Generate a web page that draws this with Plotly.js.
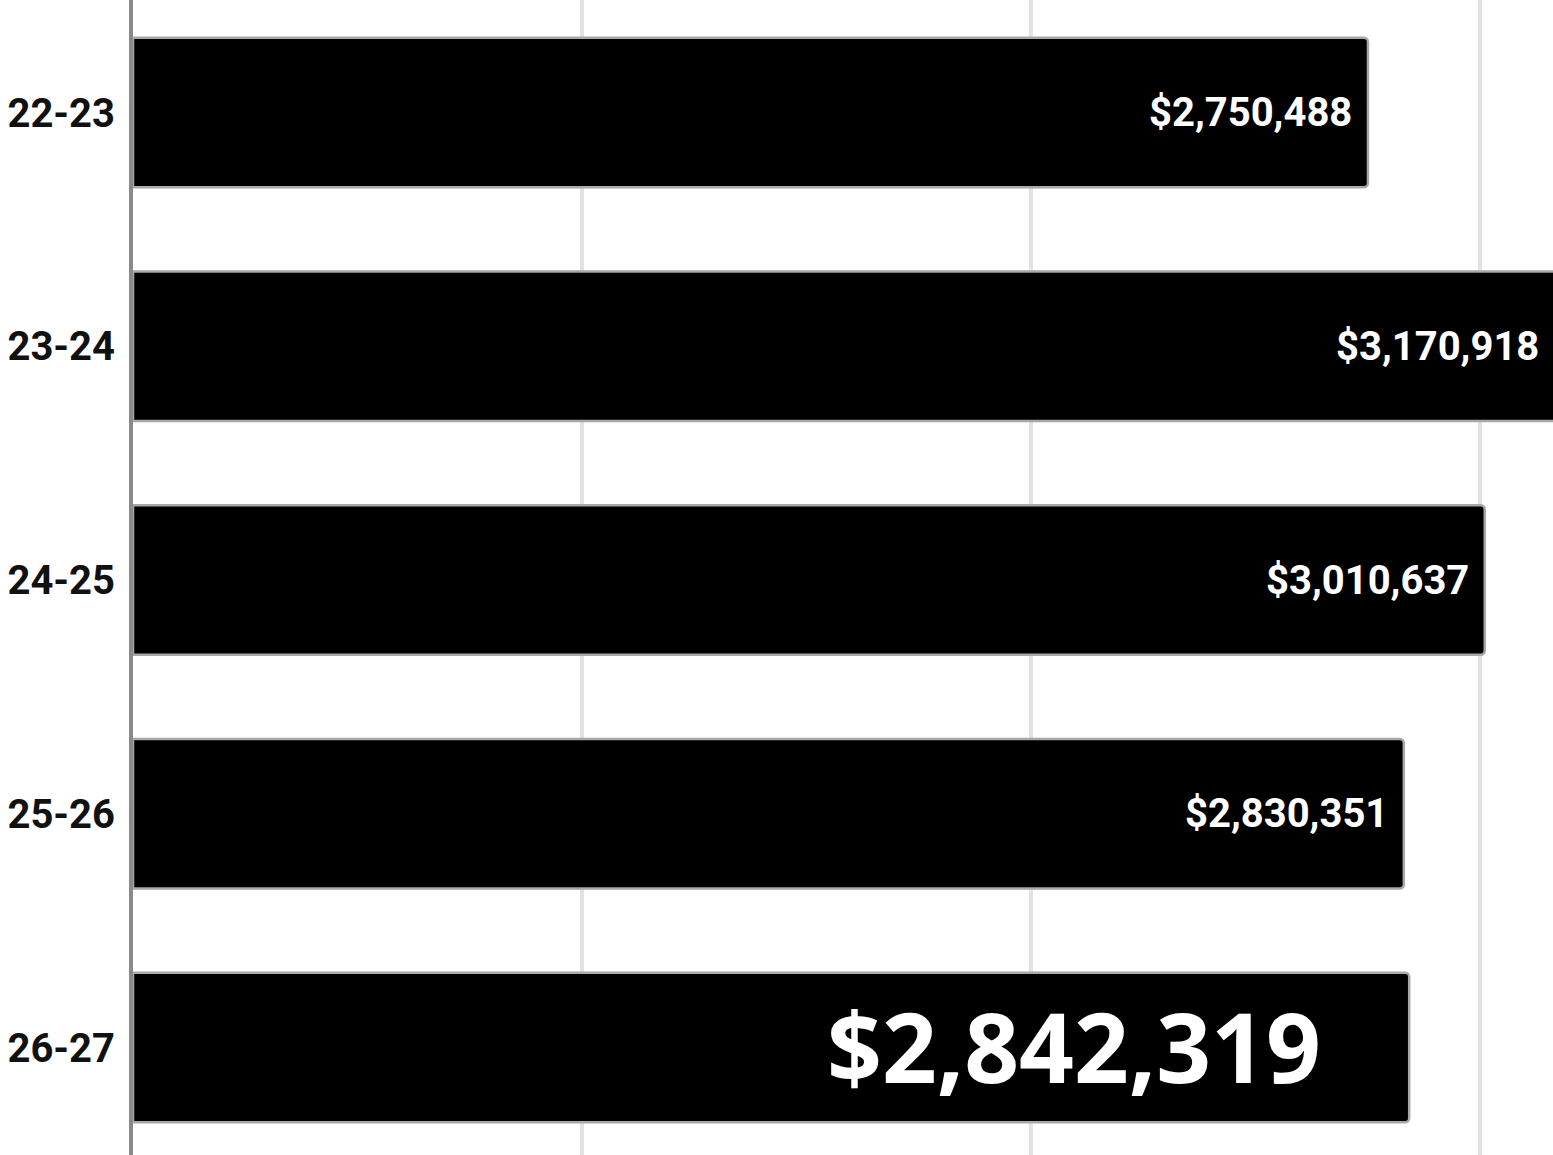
<!DOCTYPE html>
<html>
<head>
<meta charset="utf-8">
<script src="https://cdn.plot.ly/plotly-3.0.1.min.js"></script>
<style>
html,body{margin:0;padding:0;background:#fff;}
#chart{width:1553px;height:1155px;}
</style>
</head>
<body>
<div id="chart"></div>
<script>
const categories = ['22-23', '23-24', '24-25', '25-26', '26-27'];
const values = [2750488, 3170918, 3010637, 2830351, 2842319];
const valueLabels = ['$2,750,488', '$3,170,918', '$3,010,637', '$2,830,351', '$2,842,319'];

const X_MAX = 3162584;

const trace = {
  type: 'bar',
  orientation: 'h',
  y: categories,
  x: values,
  marker: {
    color: '#000000',
    line: {color: '#a8a8a8', width: 2.5},
    cornerradius: 4
  },
  hoverinfo: 'skip'
};

const last = categories.length - 1;
const annotations = categories.map((c, i) => ({
  x: Math.min(values[i], X_MAX),
  y: c,
  xref: 'x',
  yref: 'y',
  text: valueLabels[i],
  showarrow: false,
  xanchor: 'right',
  yanchor: 'middle',
  xshift: i === last ? -86 : (values[i] > X_MAX ? -12 : -14),
  yshift: i === last ? 2 : 0,
  font: i === last
    ? {family: 'Open Sans, sans-serif', size: 96, color: '#ffffff', weight: 700}
    : {family: 'Roboto, sans-serif', size: 40, color: '#ffffff', weight: 700}
}));

const layout = {
  width: 1553,
  height: 1155,
  margin: {l: 133, r: 0, t: 0, b: 0, pad: 0},
  paper_bgcolor: '#ffffff',
  plot_bgcolor: '#ffffff',
  showlegend: false,
  bargap: 0.36,
  xaxis: {
    range: [0, X_MAX],
    dtick: 1000000,
    tick0: 0,
    showgrid: true,
    gridcolor: '#e2e2e2',
    gridwidth: 4,
    zeroline: false,
    showticklabels: false,
    ticks: '',
    showline: false,
    fixedrange: true
  },
  yaxis: {
    type: 'category',
    range: [4.4599, -0.4813],
    showgrid: false,
    zeroline: false,
    showline: true,
    linecolor: '#8a8a8a',
    linewidth: 4,
    ticks: '',
    ticklabelstandoff: 6,
    tickfont: {family: 'Roboto, sans-serif', size: 40, color: '#111111', weight: 700},
    fixedrange: true
  },
  annotations: annotations
};

Plotly.newPlot('chart', [trace], layout, {displayModeBar: false, staticPlot: true});
</script>
</body>
</html>
